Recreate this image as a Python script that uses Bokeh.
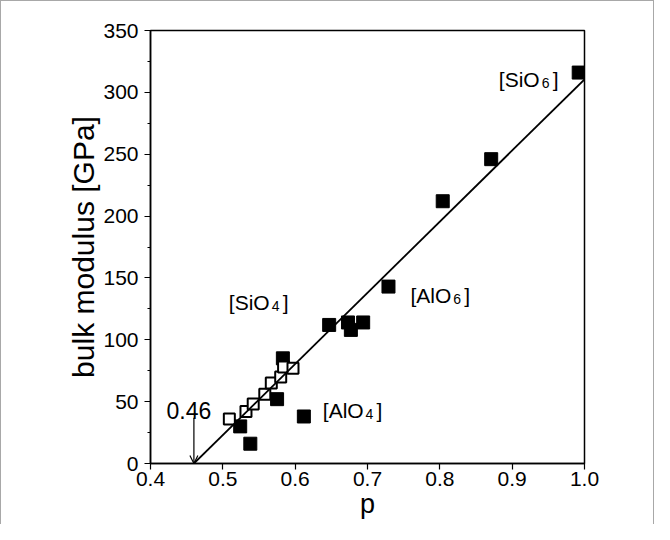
from bokeh.plotting import figure
from bokeh.models import Arrow, OpenHead, Range1d, FixedTicker, NumeralTickFormatter
from bokeh.core.properties import value
from bokeh.embed import file_html
from bokeh.resources import INLINE

# ---- data ----
filled_p = [0.992, 0.871, 0.804, 0.729, 0.647, 0.673, 0.677, 0.694, 0.583, 0.575, 0.612, 0.524, 0.538]
filled_k = [316, 246, 212, 143, 112, 114, 108, 114, 85, 52, 38, 30, 16]
open_p = [0.509, 0.532, 0.542, 0.558, 0.567, 0.580, 0.584, 0.597]
open_k = [36, 42, 48, 56, 65, 70, 78, 77]
fit_p = [0.46, 1.0]
fit_k = [0, 310.5]
x_ticks = [0.4, 0.5, 0.6, 0.7, 0.8, 0.9, 1.0]
y_ticks = [0, 50, 100, 150, 200, 250, 300, 350]
y_minor = [25, 75, 125, 175, 225, 275, 325]
p_threshold = 0.46

FONT = "Liberation Sans"

p = figure(width=654, height=524, output_backend="svg", toolbar_location=None,
           x_range=Range1d(0.4, 1.0), y_range=Range1d(0, 350),
           min_border_left=149, min_border_right=71, min_border_top=29, min_border_bottom=62)
p.styles = {"border-top": "1px solid #a8a8a8", "border-left": "1px solid #a8a8a8",
            "border-right": "1px solid #a8a8a8", "box-sizing": "border-box"}
p.background_fill_color = "white"
p.border_fill_color = "white"
p.outline_line_color = "black"
p.outline_line_width = 1.5
p.xgrid.visible = False
p.ygrid.visible = False

p.xaxis.ticker = FixedTicker(ticks=x_ticks, minor_ticks=[])
p.yaxis.ticker = FixedTicker(ticks=y_ticks, minor_ticks=y_minor)
p.xaxis.formatter = NumeralTickFormatter(format="0.0")
p.yaxis.formatter = NumeralTickFormatter(format="0")
for ax in (p.xaxis[0], p.yaxis[0]):
    ax.axis_line_width = 1.5
    ax.major_tick_in = 0
    ax.major_tick_out = 6
    ax.minor_tick_in = 0
    ax.minor_tick_out = 3
    ax.major_tick_line_width = 1.2
    ax.minor_tick_line_width = 1.2
    ax.major_label_text_font = FONT
    ax.major_label_text_font_size = "21px"
    ax.major_label_text_color = "black"
    ax.axis_label_text_font = FONT
    ax.axis_label_text_font_style = "normal"
    ax.axis_label_text_color = "black"
p.yaxis.major_label_standoff = 6
p.xaxis.major_label_standoff = 2
p.yaxis.axis_label = "bulk modulus [GPa]"
p.yaxis.axis_label_text_font_size = "30px"
p.yaxis.axis_label_standoff = 0
p.xaxis.axis_label = "p"
p.xaxis.axis_label_text_font_size = "27px"
p.xaxis.axis_label_standoff = 0

# markers (drawn first so the fit line crosses the open squares)
p.scatter(filled_p, filled_k, marker="square", size=13, fill_color="black", line_color="black")
p.scatter(open_p, open_k, marker="square", size=11, fill_color="white", line_color="black", line_width=2)

# fit line
p.line(fit_p, fit_k, line_color="black", line_width=1.8)

# arrow to threshold
p.add_layout(Arrow(end=OpenHead(size=8, line_width=1.2, line_color="black"),
                   x_start=p_threshold, y_start=37, x_end=p_threshold, y_end=0,
                   line_width=1.2, line_color="black"))

def label(x, y, main, sub=None, tail=None, size=21):
    p.text(x=[x], y=[y], text=[main], text_font=value(FONT), text_font_size=f"{size}px",
           text_baseline="alphabetic", text_align="left", text_color="black")
    if sub is not None:
        w = 40.8
        p.text(x=[x], y=[y], text=[sub], x_offset=w + 2, y_offset=4,
               text_font=value(FONT), text_font_size="14px",
               text_baseline="alphabetic", text_align="left", text_color="black")
        p.text(x=[x], y=[y], text=[tail], x_offset=w + 2 + 8 + 3,
               text_font=value(FONT), text_font_size=f"{size}px",
               text_baseline="alphabetic", text_align="left", text_color="black")

label(0.8816, 310.5, "[SiO", "6", "]")
label(0.7594, 135.8, "[AlO", "6", "]")
label(0.5083, 130.4, "[SiO", "4", "]")
label(0.6382, 43, "[AlO", "4", "]")
label(0.4221, 43, "0.46", size=23)

open("out.html", "w").write(file_html(p, INLINE))
